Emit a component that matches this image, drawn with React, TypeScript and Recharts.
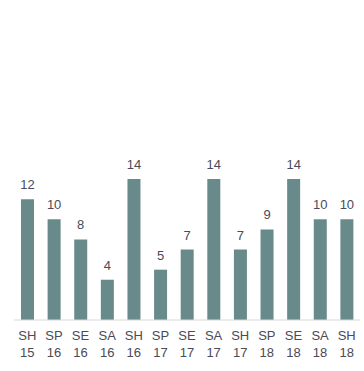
import React from "react";
import { BarChart, Bar, XAxis, YAxis, LabelList } from "recharts";

// Seasons: SH / SP / SE / SA + year
const seasons = ["SH", "SP", "SE", "SA", "SH", "SP", "SE", "SA", "SH", "SP", "SE", "SA", "SH"];
const years = ["15", "16", "16", "16", "16", "17", "17", "17", "17", "18", "18", "18", "18"];
const counts = [12, 10, 8, 4, 14, 5, 7, 14, 7, 9, 14, 10, 10];

const data = counts.map((v, i) => ({
  name: `${seasons[i]} ${years[i]}`,
  value: v,
}));

const textColor = "#4a4a58";

const SeasonTick = (props: any) => {
  const { x, y, payload } = props;
  const [s, yr] = String(payload.value).split(" ");
  return (
    <g transform={`translate(${x},${y})`}>
      <text x={0} y={0} dy={12} textAnchor="middle" fill={textColor} fontSize={13}>
        {s}
      </text>
      <text x={0} y={0} dy={29} textAnchor="middle" fill={textColor} fontSize={13}>
        {yr}
      </text>
    </g>
  );
};

const App: React.FC = () => {
  return (
    <div style={{ position: "absolute", left: 0, top: 0, fontFamily: "Arial, 'Liberation Sans', sans-serif" }}>
      <BarChart
        width={364}
        height={371}
        data={data}
        margin={{ top: 18, right: 4, left: 14, bottom: 6 }}
      >
        <XAxis
          dataKey="name"
          interval={0}
          tick={<SeasonTick />}
          tickLine={false}
          axisLine={{ stroke: "#d9d9d9" }}
          height={45}
        />
        <YAxis hide domain={[0, 30]} />
        <Bar dataKey="value" fill="#688a8b" barSize={13} isAnimationActive={false}>
          <LabelList dataKey="value" position="top" offset={10} fill={textColor} fontSize={13} />
        </Bar>
      </BarChart>
    </div>
  );
};

export default App;
